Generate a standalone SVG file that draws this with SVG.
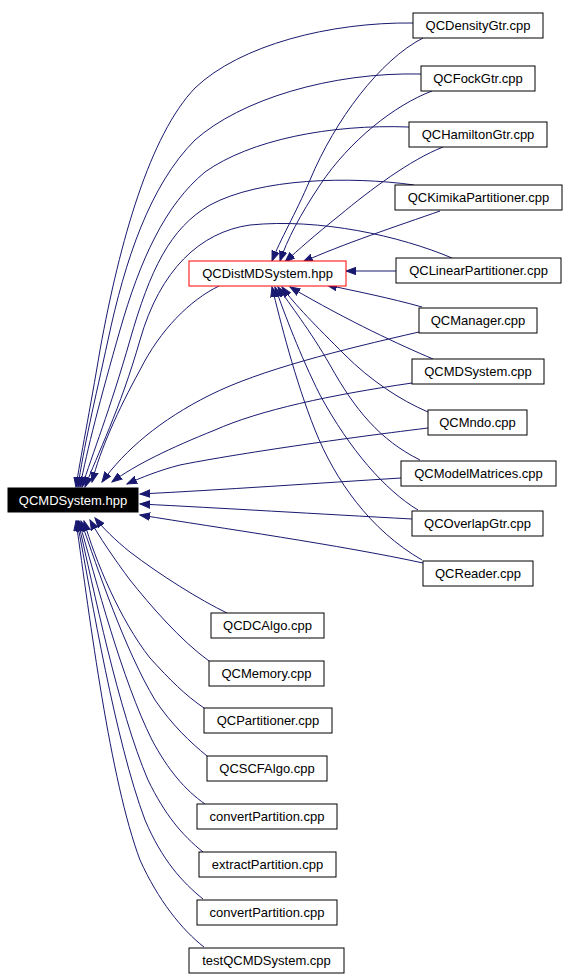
<svg xmlns="http://www.w3.org/2000/svg" width="568" height="979" viewBox="0 0 568 979">
<style>
.n rect{fill:#fff;stroke:#000;stroke-width:1}
.n text{font-family:"Liberation Sans",Arial,sans-serif;font-size:13px;text-anchor:middle;fill:#000}
#hpp rect{fill:#000}
#hpp text{fill:#fff}
#dist rect{stroke:#f00}
.e path{fill:none;stroke:#191970;stroke-width:1;marker-end:url(#ah)}
</style>
<defs>
<marker id="ah" markerUnits="userSpaceOnUse" markerWidth="11" markerHeight="9" refX="10" refY="4.5" orient="auto" viewBox="0 0 11 9">
<path d="M0,0.8 L10,4.5 L0,8.2 z" fill="#191970" stroke="#191970" stroke-width="1"/>
</marker>
</defs>
<rect width="568" height="979" fill="#fff"/>
<g id="edges" class="e">
<path d="M413,23 C330,22 240,45 195,88 C150,135 120,240 100,350 C90,410 80,460 76,487"/>
<path d="M421,74 C330,72 240,100 195,140 C150,185 125,260 108,340 C95,400 83,450 78,487"/>
<path d="M409,127 C330,124 250,140 205,172 C165,205 140,260 120,330 C100,400 87,450 80,487"/>
<path d="M414,185 C350,176 260,178 210,205 C170,228 150,270 130,340 C110,410 92,455 82,487"/>
<path d="M452,258 C400,236 320,218 250,225 C200,232 160,270 140,340 C120,410 97,455 85,487"/>
<path d="M219,286 C190,300 160,330 140,370 C118,410 100,450 92,482"/>
<path d="M419,332 C340,350 260,370 210,395 C160,420 125,450 102,482"/>
<path d="M412,383 C330,395 260,410 215,430 C170,448 135,465 112,482"/>
<path d="M428,428 C330,440 230,455 180,465 C160,470 140,478 127,484"/>
<path d="M401,478 C320,483 220,490 140,494"/>
<path d="M412,519 C320,514 220,508 140,504"/>
<path d="M423,563 C340,545 220,528 140,515"/>
<path d="M227,613 C200,600 160,575 130,552 C115,540 103,528 95,518"/>
<path d="M209,661 C180,640 150,605 130,580 C115,560 98,535 90,520"/>
<path d="M204,708 C185,695 170,680 150,658 C120,620 95,560 84,521"/>
<path d="M207,756 C190,742 172,725 155,700 C125,650 98,570 81,521"/>
<path d="M205,804 C185,790 168,770 152,740 C122,680 96,580 79,521"/>
<path d="M203,852 C182,835 165,815 148,780 C118,710 94,590 78,521"/>
<path d="M203,899 C182,882 162,860 145,820 C115,740 92,600 77,521"/>
<path d="M204,947 C182,930 158,900 140,860 C110,780 90,620 76,521"/>
<path d="M423,38 C380,60 335,120 310,180 C295,215 280,240 272,261"/>
<path d="M432,91 C395,105 350,140 320,185 C300,215 287,240 280,261"/>
<path d="M443,147 C410,160 370,190 340,215 C315,235 298,250 285,262"/>
<path d="M440,211 C400,225 340,245 303,262"/>
<path d="M396,271 L346,271"/>
<path d="M422,307 C390,298 355,291 327,285"/>
<path d="M433,359 C400,345 350,322 290,287"/>
<path d="M428,412 C400,400 370,380 345,355 C315,325 295,305 282,287"/>
<path d="M420,460 C380,440 355,410 330,365 C310,330 290,305 278,287"/>
<path d="M418,510 C385,490 350,450 320,395 C300,355 285,315 275,287"/>
<path d="M422,560 C370,530 335,480 315,430 C295,380 280,320 272,287"/>
</g>
<g id="hpp" class="n"><rect x="8" y="488" width="130" height="24"/><text x="73" y="504.5">QCMDSystem.hpp</text></g>
<g id="dist" class="n"><rect x="189" y="261" width="157" height="25"/><text x="267.5" y="278">QCDistMDSystem.hpp</text></g>
<g id="density" class="n"><rect x="413" y="13" width="130" height="25"/><text x="478" y="30">QCDensityGtr.cpp</text></g>
<g id="fock" class="n"><rect x="421" y="66" width="114" height="25"/><text x="478" y="83">QCFockGtr.cpp</text></g>
<g id="hamilton" class="n"><rect x="409" y="122" width="138" height="25"/><text x="478" y="139">QCHamiltonGtr.cpp</text></g>
<g id="kimika" class="n"><rect x="395" y="185" width="167" height="25"/><text x="478.5" y="202">QCKimikaPartitioner.cpp</text></g>
<g id="linear" class="n"><rect x="396" y="258" width="165" height="25"/><text x="478.5" y="275">QCLinearPartitioner.cpp</text></g>
<g id="manager" class="n"><rect x="419" y="308" width="118" height="25"/><text x="478" y="325">QCManager.cpp</text></g>
<g id="mdsystemcpp" class="n"><rect x="412" y="359" width="132" height="25"/><text x="478" y="376">QCMDSystem.cpp</text></g>
<g id="mndo" class="n"><rect x="428" y="410" width="99" height="25"/><text x="477.5" y="427">QCMndo.cpp</text></g>
<g id="modelmatrices" class="n"><rect x="401" y="461" width="155" height="25"/><text x="478.5" y="478">QCModelMatrices.cpp</text></g>
<g id="overlap" class="n"><rect x="412" y="511" width="131" height="25"/><text x="477.5" y="528">QCOverlapGtr.cpp</text></g>
<g id="reader" class="n"><rect x="423" y="561" width="110" height="25"/><text x="478" y="578">QCReader.cpp</text></g>
<g id="dcalgo" class="n"><rect x="211" y="613" width="113" height="25"/><text x="267.5" y="630">QCDCAlgo.cpp</text></g>
<g id="memory" class="n"><rect x="209" y="661" width="115" height="25"/><text x="266.5" y="678">QCMemory.cpp</text></g>
<g id="partitioner" class="n"><rect x="204" y="708" width="128" height="25"/><text x="268" y="725">QCPartitioner.cpp</text></g>
<g id="scfalgo" class="n"><rect x="207" y="756" width="120" height="25"/><text x="267" y="773">QCSCFAlgo.cpp</text></g>
<g id="convert1" class="n"><rect x="197" y="804" width="140" height="25"/><text x="267" y="821">convertPartition.cpp</text></g>
<g id="extract" class="n"><rect x="199" y="852" width="137" height="25"/><text x="267.5" y="869">extractPartition.cpp</text></g>
<g id="convert2" class="n"><rect x="197" y="900" width="140" height="25"/><text x="267" y="917">convertPartition.cpp</text></g>
<g id="test" class="n"><rect x="189" y="948" width="155" height="25"/><text x="266.5" y="965">testQCMDSystem.cpp</text></g>
</svg>
